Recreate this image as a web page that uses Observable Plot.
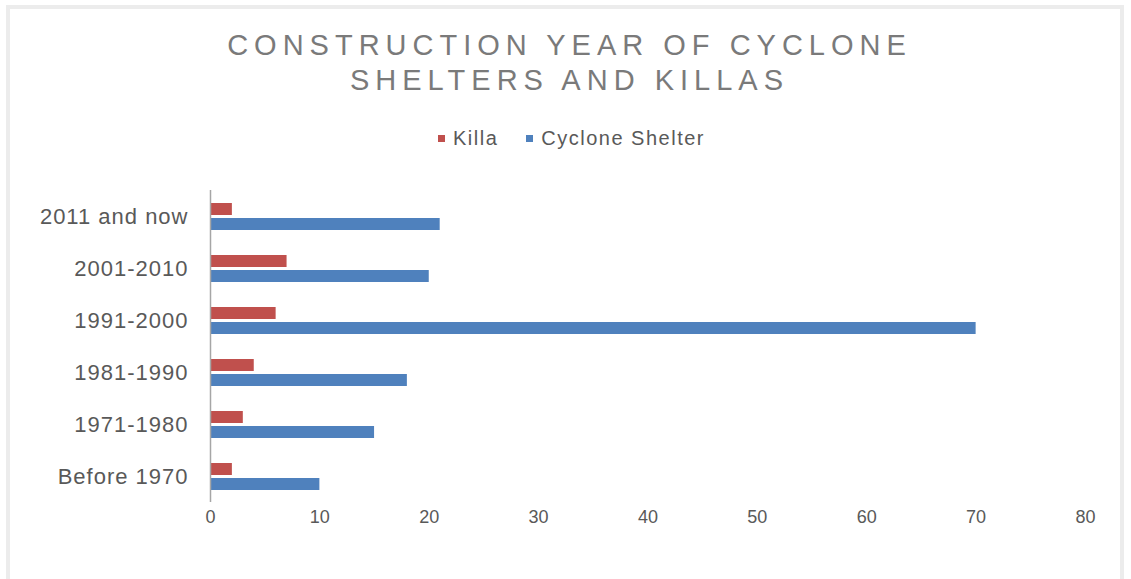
<!DOCTYPE html>
<html>
<head>
<meta charset="utf-8">
<script src="https://cdn.jsdelivr.net/npm/d3@7"></script>
<script src="https://cdn.jsdelivr.net/npm/@observablehq/plot@0.6"></script>
<style>
  html, body { margin: 0; padding: 0; background: #fff; }
  #wrap { position: relative; width: 1131px; height: 579px; overflow: hidden; background: #fff; font-family: "Liberation Sans", Arial, sans-serif; }
  #frame { position: absolute; left: 6px; top: 5px; width: 1118px; height: 620px; border: 4px solid #ececec; box-sizing: border-box; }
  #title { position: absolute; left: 0; top: 28px; width: 1131px; text-align: center; font-size: 29px; line-height: 35px; letter-spacing: 6px; color: #7a7a7a; padding-left: 8px; box-sizing: border-box; }
  #legend { position: absolute; left: 0; top: 127px; width: 1131px; text-align: center; font-size: 20px; color: #595959; padding-left: 12px; box-sizing: border-box; }
  #legend span.sw { display: inline-block; width: 7px; height: 7px; margin-right: 8px; vertical-align: middle; position: relative; top: -1px; }
  #legend span.item { margin: 0 14px; letter-spacing: 1.5px; }
  #chart { position: absolute; left: 0; top: 165px; }
  #chart g[aria-label="y-axis tick label"] text { letter-spacing: 1px; }
</style>
</head>
<body>
<div id="wrap">
  <div id="frame"></div>
  <div id="title"></div>
  <div id="legend"></div>
  <div id="chart"></div>
</div>
<script>
const titleLines = ["CONSTRUCTION YEAR OF CYCLONE", "SHELTERS AND KILLAS"];
const categories = ["2011 and now", "2001-2010", "1991-2000", "1981-1990", "1971-1980", "Before 1970"];
const seriesNames = ["Killa", "Cyclone Shelter"];
const seriesColors = ["#c0504d", "#4f81bd"];
const killa = [2, 7, 6, 4, 3, 2];
const cycloneShelter = [21, 20, 70, 18, 15, 10];
const xTicks = [0, 10, 20, 30, 40, 50, 60, 70, 80];

document.getElementById("title").innerHTML = titleLines.join("<br>");
document.getElementById("legend").innerHTML = seriesNames.map((n, i) =>
  `<span class="item"><span class="sw" style="background:${seriesColors[i]}"></span>${n}</span>`).join("");

const killaData = categories.map((c, i) => ({category: c, value: killa[i]}));
const shelterData = categories.map((c, i) => ({category: c, value: cycloneShelter[i]}));

const chart = Plot.plot({
  width: 1131,
  height: 414,
  marginLeft: 210,
  marginRight: 46,
  marginTop: 25,
  marginBottom: 77,
  style: { fontFamily: "Liberation Sans, Arial, sans-serif", background: "transparent", color: "#595959" },
  x: { domain: [0, 80] },
  y: { domain: categories, padding: 0 },
  marks: [
    Plot.barX(killaData, { x: "value", y: "category", fill: seriesColors[0], insetTop: 13, insetBottom: 27 }),
    Plot.barX(shelterData, { x: "value", y: "category", fill: seriesColors[1], insetTop: 28, insetBottom: 12 }),
    Plot.ruleX([0], { stroke: "#a6a6a6", strokeWidth: 1.5 }),
    Plot.axisX({ ticks: xTicks, tickSize: 0, tickPadding: 8, fontSize: 18, label: null, fill: "#595959", tickFormat: d => String(d) }),
    Plot.axisY({ tickSize: 0, tickPadding: 22, fontSize: 22, label: null, fill: "#595959" })
  ]
});
document.getElementById("chart").appendChild(chart);
</script>
</body>
</html>
